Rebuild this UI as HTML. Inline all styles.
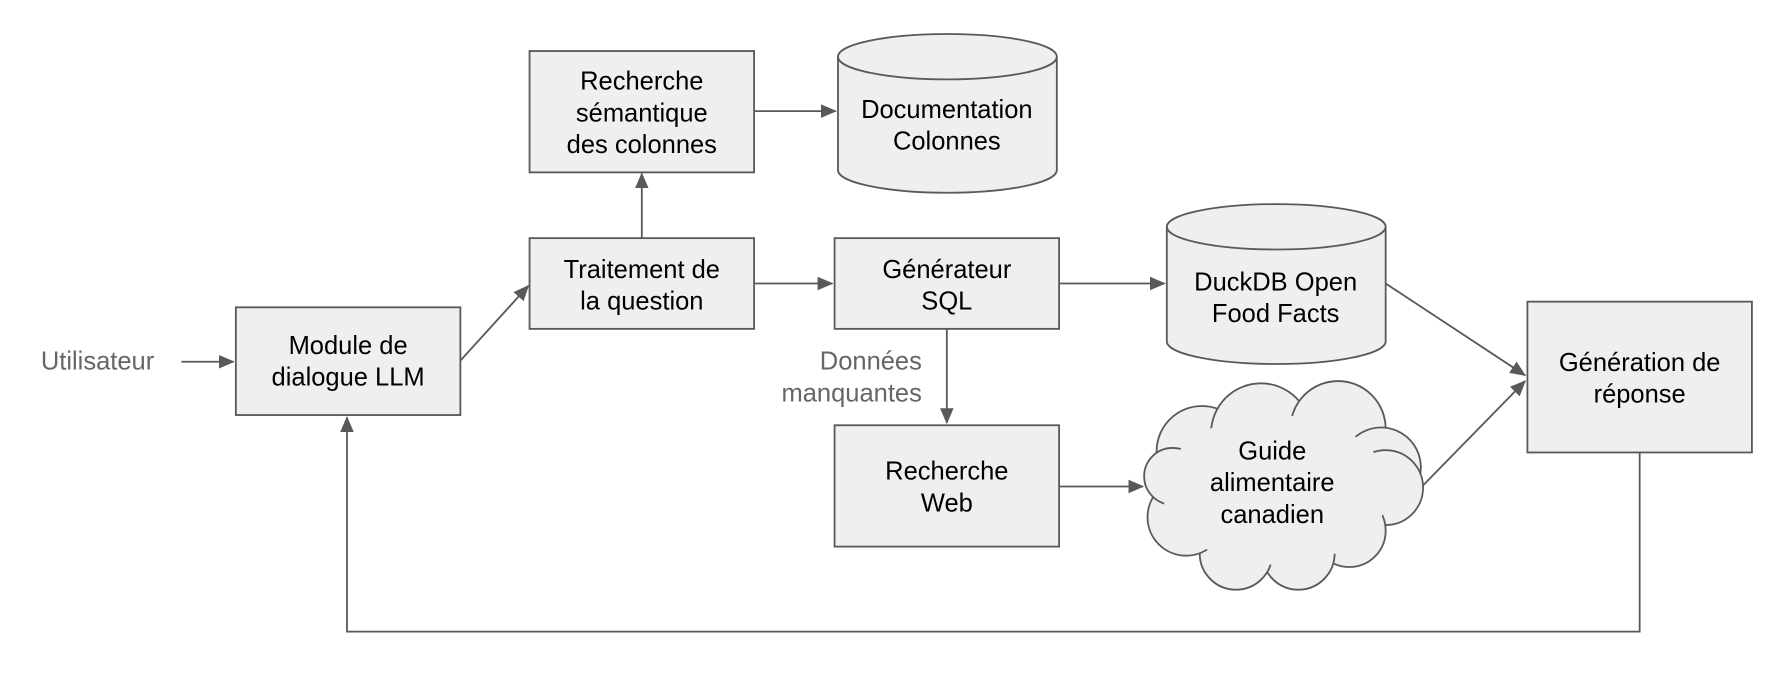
<!DOCTYPE html>
<html><head><meta charset="utf-8"><style>
html,body{margin:0;padding:0;background:#fff;}
svg{display:block;}
text{font-family:"Liberation Sans",Arial,sans-serif;font-size:22.5px;fill:#000;text-anchor:middle;}
.g{fill:#666;}
</style></head><body>
<svg width="1778" height="682" viewBox="0 0 1568 601.4" preserveAspectRatio="none" xmlns="http://www.w3.org/2000/svg">
<defs>
<marker id="a" markerWidth="14" markerHeight="12" refX="13" refY="6" orient="auto" markerUnits="userSpaceOnUse" viewBox="0 0 14 12">
<path d="M0,0 L14,6 L0,12 z" fill="#595959"/>
</marker>
</defs>
<g stroke="#595959" stroke-width="1.6" fill="#efefef">
<rect x="208" y="271" width="198" height="95"/>
<rect x="467" y="210" width="198" height="80"/>
<rect x="467" y="45" width="198" height="107"/>
<rect x="736" y="210" width="198" height="80"/>
<rect x="736" y="375" width="198" height="107"/>
<rect x="1347" y="266" width="198" height="133"/>
<path d="M739,50 v100 a96.5,20 0 0 0 193,0 v-100"/>
<ellipse cx="835.5" cy="50" rx="96.5" ry="20"/>
<path d="M1029,200 v101 a96.5,20 0 0 0 193,0 v-101"/>
<ellipse cx="1125.5" cy="200" rx="96.5" ry="20"/>
<circle cx="1060" cy="398" r="40"/>
<circle cx="1112" cy="382" r="44"/>
<circle cx="1180" cy="378" r="42"/>
<circle cx="1218" cy="412" r="35"/>
<circle cx="1222" cy="430" r="33"/>
<circle cx="1190" cy="468" r="32"/>
<circle cx="1145" cy="488" r="32"/>
<circle cx="1090" cy="488" r="32"/>
<circle cx="1046" cy="456" r="34"/>
<circle cx="1034" cy="420" r="25"/>
</g>
<ellipse cx="1125" cy="432" rx="100" ry="66" fill="#efefef"/>
<g stroke="#595959" stroke-width="1.6" fill="none">
<line x1="160" y1="319" x2="206" y2="319" marker-end="url(#a)"/>
<line x1="406" y1="318" x2="466" y2="252" marker-end="url(#a)"/>
<line x1="566" y1="210" x2="566" y2="153" marker-end="url(#a)"/>
<line x1="665" y1="98" x2="737" y2="98" marker-end="url(#a)"/>
<line x1="665" y1="250" x2="734" y2="250" marker-end="url(#a)"/>
<line x1="934" y1="250" x2="1027" y2="250" marker-end="url(#a)"/>
<line x1="1222" y1="250" x2="1345" y2="331" marker-end="url(#a)"/>
<line x1="835" y1="290" x2="835" y2="373" marker-end="url(#a)"/>
<line x1="934" y1="429" x2="1008" y2="429" marker-end="url(#a)"/>
<line x1="1255" y1="428" x2="1345" y2="336" marker-end="url(#a)"/>
<polyline points="1446,399 1446,557 306,557 306,368" marker-end="url(#a)"/>
</g>
<text class="g" x="86" y="326">Utilisateur</text>
<text x="307" y="312">Module de</text>
<text x="307" y="340">dialogue LLM</text>
<text x="566" y="245">Traitement de</text>
<text x="566" y="273">la question</text>
<text x="566" y="79">Recherche</text>
<text x="566" y="107">sémantique</text>
<text x="566" y="135">des colonnes</text>
<text x="835" y="104">Documentation</text>
<text x="835" y="132">Colonnes</text>
<text x="835" y="245">Générateur</text>
<text x="835" y="273">SQL</text>
<text x="1125" y="256">DuckDB Open</text>
<text x="1125" y="284">Food Facts</text>
<text class="g" x="813" y="326" style="text-anchor:end">Données</text>
<text class="g" x="813" y="354" style="text-anchor:end">manquantes</text>
<text x="835" y="423">Recherche</text>
<text x="835" y="451">Web</text>
<text x="1122" y="405">Guide</text>
<text x="1122" y="433">alimentaire</text>
<text x="1122" y="461">canadien</text>
<text x="1446" y="327">Génération de</text>
<text x="1446" y="355">réponse</text>
</svg>
</body></html>
